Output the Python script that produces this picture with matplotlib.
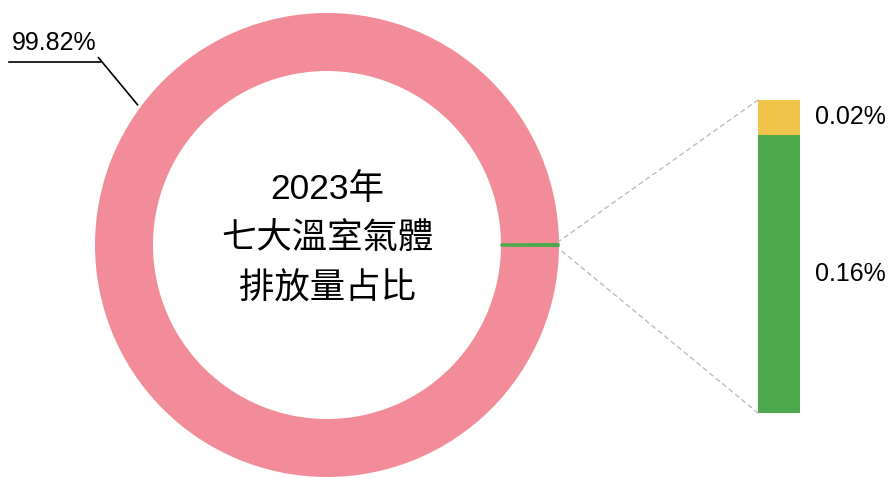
import matplotlib.pyplot as plt
from matplotlib.patches import ConnectionPatch
import numpy as np

plt.rcParams['font.family'] = ['Liberation Sans', 'Noto Sans CJK TC', 'DejaVu Sans']

# Data
pie_labels = ['其他', '其他氣體']
pie_values = [99.82, 0.18]
bar_labels = ['0.16%', '0.02%']
bar_values = [0.16, 0.02]
main_label = '99.82%'
center_text = '2023年\n七大溫室氣體\n排放量占比'

pink = '#F28C99'
green = '#4CAA4C'
yellow = '#F0C449'

W, H = 891, 478
fig = plt.figure(figsize=(W / 100, H / 100), dpi=100)

# donut axes, center (327, 245) px, radius 232 px
cx, cy, r = 327, 245, 232
ax = fig.add_axes([(cx - r) / W, (H - cy - r) / H, 2 * r / W, 2 * r / H])
small = pie_values[1] / sum(pie_values) * 360
wedges, _ = ax.pie([pie_values[1], pie_values[0]], colors=[green, pink],
                   startangle=-small / 2, counterclock=True, radius=1,
                   wedgeprops=dict(width=0.25, edgecolor='none'))
wedges[0].set_edgecolor(green)
wedges[0].set_linewidth(1)
wedges[0].set_zorder(3)
ax.set_xlim(-1, 1)
ax.set_ylim(-1, 1)
ax.set_aspect('equal')
ax.axis('off')
ax.text(0, 0.025, center_text, ha='center', va='center', fontsize=25.5,
        fontweight='medium', linespacing=1.62)

# label for the big slice
ang = np.deg2rad(143.5)
ax.annotate(main_label, xy=(np.cos(ang) * 1.015, np.sin(ang) * 1.015),
            xytext=(-1.36, 0.82), textcoords='data', fontsize=18,
            ha='left', va='bottom', annotation_clip=False,
            arrowprops=dict(arrowstyle='-', color='black', lw=1.2,
                            shrinkA=0, shrinkB=0, relpos=(1, 0)))
ax.plot([-1.37, -0.975], [0.79, 0.79], color='black', lw=1.2, clip_on=False)

# stacked bar, x 758..800, y 100..413 px
bx0, bx1, by0, by1 = 758, 800, 100, 413
bax = fig.add_axes([bx0 / W, (H - by1) / H, (bx1 - bx0) / W, (by1 - by0) / H])
bottom = 0
bar_colors = [green, yellow]
for val, lab, col in zip(bar_values, bar_labels, bar_colors):
    bax.bar(0, val, width=1, bottom=bottom, color=col)
    bax.text(0.86, bottom + val / 2, lab, ha='left', va='center', fontsize=18)
    bottom += val
bax.set_xlim(-0.5, 0.5)
bax.set_ylim(0, sum(bar_values))
bax.axis('off')

# connecting dashed lines
t1 = np.deg2rad(-small / 2 - 0.6)
t2 = np.deg2rad(small / 2 + 0.6)
for theta, yb in [(t2, sum(bar_values)), (t1, 0)]:
    con = ConnectionPatch(xyA=(-0.5, yb), coordsA=bax.transData,
                          xyB=(np.cos(theta), np.sin(theta)), coordsB=ax.transData,
                          color='#BBBBBB', lw=1, linestyle=(0, (3, 3)))
    fig.add_artist(con)

fig.savefig('out.png', dpi=100)
